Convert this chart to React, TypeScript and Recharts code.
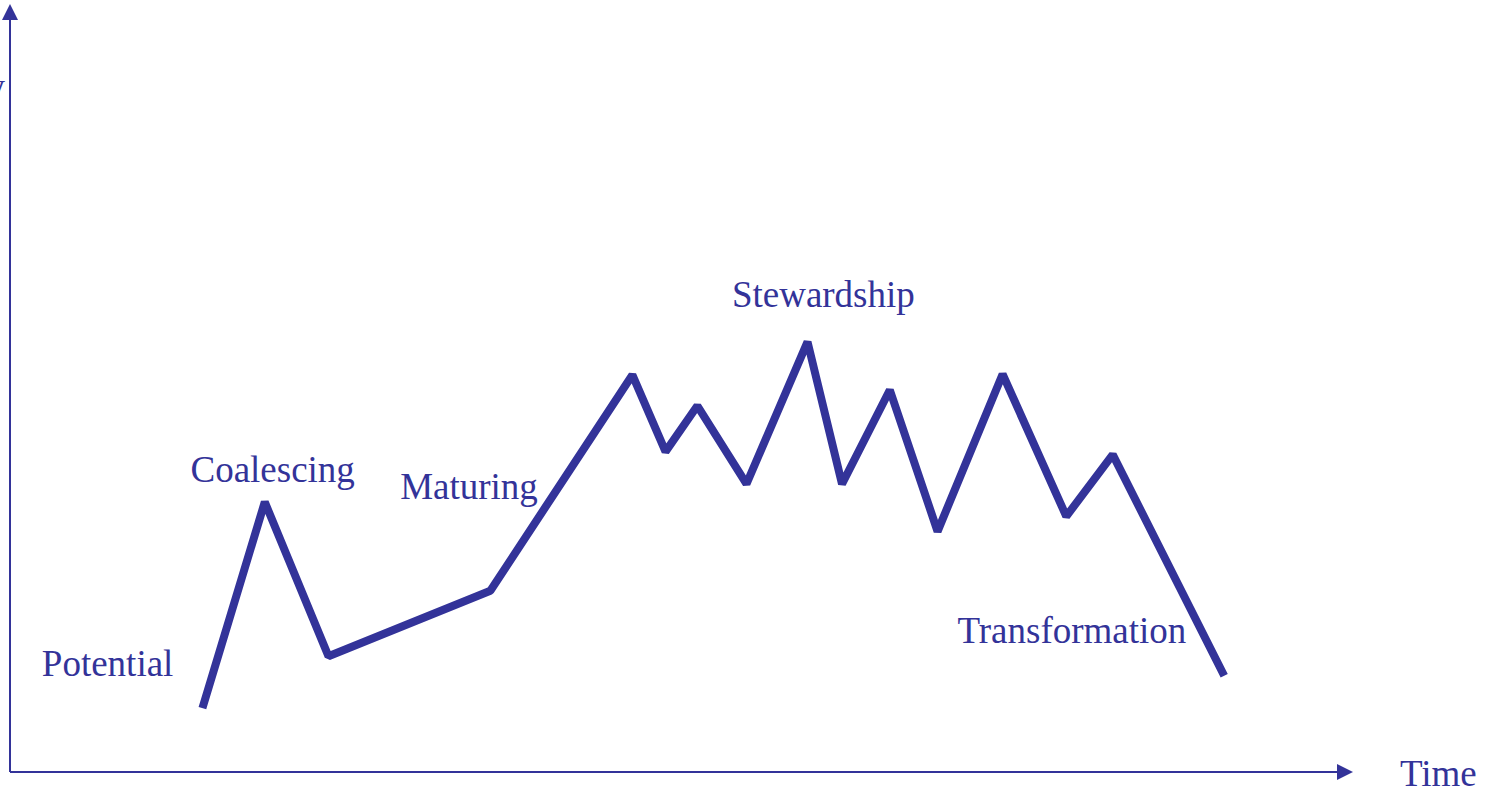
import React from 'react';
import { LineChart, Line, XAxis, YAxis, ReferenceDot, Label } from 'recharts';

// time position and level for each turn of the path
const times = [14.5, 19.2, 24.0, 36.2, 46.9, 49.4, 51.8, 55.5, 60.1, 62.7, 66.3, 69.9, 74.8, 79.6, 83.1, 91.5];
const levels = [8.5, 35.9, 15.4, 24.1, 52.8, 42.6, 48.7, 38.3, 57.2, 38.3, 50.8, 32.0, 52.9, 34.0, 42.2, 12.8];

// stage names and where they sit (left edge, baseline) in the same units
const stageNames = ['Potential', 'Coalescing', 'Maturing', 'Stewardship', 'Transformation'];
const stageTimes = [2.4, 13.6, 29.4, 54.4, 71.4];
const stageLevels = [12.8, 38.6, 36.3, 61.8, 17.2];

const xTitle = 'Time';
const yTitle = 'Level of Energy and Visibility';

const data = times.map((t, i) => ({ t, v: levels[i] }));

const INK = '#333399';
const FONT = '"Liberation Serif", "Times New Roman", serif';

const StageText = (name: string) => (props: any) => {
  const vb = props.viewBox || {};
  return (
    <text x={vb.x} y={vb.y} fill={INK} fontFamily={FONT} fontSize={37}>
      {name}
    </text>
  );
};

const TimeTitle = (props: any) => {
  const vb = props.viewBox || {};
  return (
    <text x={vb.x + vb.width + 63} y={vb.y + 14} fill={INK} fontFamily={FONT} fontSize={37}>
      {xTitle}
    </text>
  );
};

const LevelTitle = (props: any) => {
  const vb = props.viewBox || {};
  return (
    <text x={vb.x + vb.width - 5} y={vb.y + 79} textAnchor="end" fill={INK} fontFamily={FONT} fontSize={37}>
      {yTitle}
    </text>
  );
};

export default function App() {
  return (
    <div style={{ position: 'absolute', left: 0, top: 0, background: '#fff' }}>
      <LineChart width={1495} height={792} data={data} margin={{ top: 20, right: 158, left: 0, bottom: 0 }}>
        <defs>
          <marker
            id="arrowHead"
            viewBox="0 0 10 10"
            refX="0"
            refY="5"
            markerUnits="userSpaceOnUse"
            markerWidth={16}
            markerHeight={17}
            orient="auto-start-reverse"
          >
            <path d="M0,0 L10,5 L0,10 z" fill={INK} />
          </marker>
        </defs>
        <XAxis
          type="number"
          dataKey="t"
          domain={[0, 100]}
          height={20}
          tick={false}
          tickLine={false}
          axisLine={{ stroke: INK, strokeWidth: 2, markerEnd: 'url(#arrowHead)' }}
        >
          <Label content={TimeTitle} />
        </XAxis>
        <YAxis
          type="number"
          domain={[0, 100]}
          width={10}
          tick={false}
          tickLine={false}
          axisLine={{ stroke: INK, strokeWidth: 2, markerStart: 'url(#arrowHead)' }}
        >
          <Label content={LevelTitle} />
        </YAxis>
        <Line
          type="linear"
          dataKey="v"
          stroke={INK}
          strokeWidth={8}
          strokeLinejoin="bevel"
          dot={false}
          activeDot={false}
          isAnimationActive={false}
        />
        {stageNames.map((name, i) => (
          <ReferenceDot
            key={name}
            x={stageTimes[i]}
            y={stageLevels[i]}
            r={0}
            fill="none"
            stroke="none"
            label={StageText(name)}
          />
        ))}
      </LineChart>
    </div>
  );
}
